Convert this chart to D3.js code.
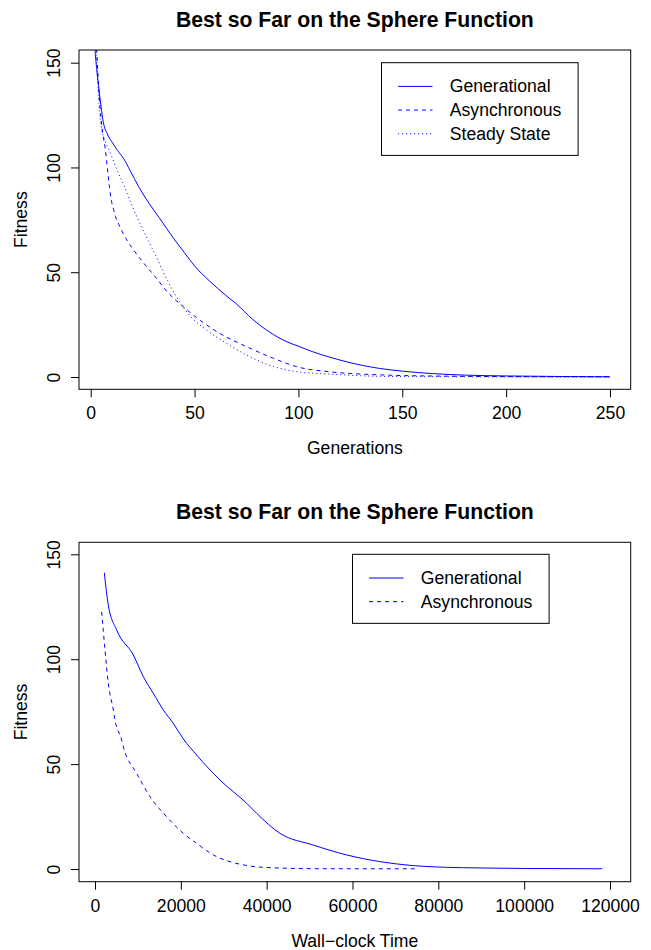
<!DOCTYPE html>
<html>
<head>
<meta charset="utf-8">
<script src="https://cdn.jsdelivr.net/npm/d3@7/dist/d3.min.js"></script>
<style>
  html, body { margin: 0; padding: 0; background: #fff; }
  svg { display: block; }
  text { font-family: "Liberation Sans", Arial, Helvetica, sans-serif; fill: #000; }
</style>
</head>
<body>
<svg id="chart" width="651" height="950"></svg>
<script>
// ---- Panel 1: best-so-far fitness per generation ----
const genGenerational = [1, 2, 3, 4, 5, 6, 8, 10, 13, 16, 19, 23, 28, 33, 40, 45, 50, 57, 65, 70, 78, 86, 94, 100, 107, 115, 123, 131, 139, 150, 165, 180, 200, 225, 250];
const fitGenerational = [185, 158, 146, 137, 129, 122, 116, 112.5, 108, 104, 98.5, 91, 83, 76, 66, 59.5, 53, 46, 39, 35, 27.5, 21.5, 17, 14.7, 12, 9.5, 7.3, 5.5, 4.1, 2.8, 1.6, 0.9, 0.5, 0.25, 0.1];

const genAsync = [1, 2, 3, 4, 5, 6, 7, 8, 9, 10, 11, 12, 14, 17, 20, 25, 31, 37, 45, 53, 62, 75, 88, 100, 115, 140, 170, 200, 250];
const fitAsync = [210, 175, 154, 136, 123, 115, 109, 100, 91, 84, 80, 76.5, 71.8, 66, 61.5, 55, 47.9, 40.5, 33.2, 26.8, 20.9, 14.5, 8.9, 4.7, 2.5, 1.0, 0.4, 0.2, 0.1];

const genSteady = [1, 2, 3, 4, 5, 7, 9, 11, 13, 16, 19, 22, 25, 28, 32, 36, 40, 44, 48, 55, 65, 75, 88, 100, 115, 130, 150, 200, 250];
const fitSteady = [215, 172, 148, 130, 120, 112.5, 108, 103, 98, 91.5, 84, 77, 70.5, 64.5, 56.5, 48, 40.5, 34, 29, 23, 16.3, 10.5, 5, 2.4, 1.4, 0.6, 0.2, 0.05, 0.02];

const genTicks = [0, 50, 100, 150, 200, 250];
const fitTicks = [0, 50, 100, 150];

// ---- Panel 2: best-so-far fitness against wall-clock time ----
const timeGenerational = [2170, 3100, 5050, 8930, 11260, 13590, 15920, 18250, 20580, 23690, 29130, 35350, 37680, 43110, 50880, 58650, 66410, 74180, 81950, 89710, 100000, 118200];
const wfitGenerational = [141.2, 125.8, 113.9, 102, 91.7, 83.7, 75.8, 69.4, 62, 54.3, 42.4, 31.3, 26.5, 17, 11.4, 6.7, 3.5, 1.6, 0.8, 0.5, 0.25, 0.1];

const timeAsync = [1550, 2330, 3100, 4270, 4660, 6210, 6600, 9710, 12820, 16700, 20580, 23690, 27570, 31450, 35000, 39220, 50880, 74950];
const wfitAsync = [122.6, 104.4, 88.5, 75.8, 71, 61.5, 58.3, 45.6, 34.5, 24.9, 17, 12.2, 6.7, 3.5, 1.8, 0.8, 0.15, 0.1];

const timeTicks = [0, 20000, 40000, 60000, 80000, 100000, 120000];

const seriesNames = ["Generational", "Asynchronous", "Steady State"];
const dashes = { "Generational": null, "Asynchronous": "4,4", "Steady State": "1,3" };
const lineColor = "#0000ff";

const FONT = 17.6;
const TITLE_FONT = 21.2;
const svg = d3.select("#chart");

function zip(xs, ys) { return xs.map((x, i) => ({ x, y: ys[i] })); }

function drawPanel(opt) {
  const { id, box, x, y, xTicks, yTicks, series, title, xLabel, legendAt } = opt;
  const g = svg.append("g");

  g.append("clipPath").attr("id", id)
    .append("rect")
    .attr("x", box.left).attr("y", box.top)
    .attr("width", box.right - box.left).attr("height", box.bottom - box.top);

  const line = d3.line().curve(d3.curveMonotoneX).x(d => x(d.x)).y(d => y(d.y));
  const plot = g.append("g").attr("clip-path", `url(#${id})`);
  series.forEach(s => {
    plot.append("path")
      .datum(zip(s.xs, s.ys))
      .attr("d", line)
      .attr("fill", "none")
      .attr("stroke", lineColor)
      .attr("stroke-width", 1)
      .attr("stroke-dasharray", dashes[s.name]);
  });

  // frame
  g.append("rect")
    .attr("x", box.left).attr("y", box.top)
    .attr("width", box.right - box.left).attr("height", box.bottom - box.top)
    .attr("fill", "none").attr("stroke", "#000").attr("stroke-width", 1);

  // bottom axis
  const xa = g.append("g")
    .attr("transform", `translate(0,${box.bottom})`)
    .call(d3.axisBottom(x).tickValues(xTicks).tickSize(8).tickFormat(d3.format("d")));
  xa.select(".domain").remove();
  xa.selectAll("line").attr("stroke", "#000");
  xa.selectAll("text")
    .attr("y", 30).attr("dy", null)
    .style("font-size", FONT + "px")
    .style("font-family", "'Liberation Sans', Arial, sans-serif")
    .attr("fill", "#000");

  // left axis with labels running parallel to it
  const ya = g.append("g")
    .attr("transform", `translate(${box.left},0)`)
    .call(d3.axisLeft(y).tickValues(yTicks).tickSize(8));
  ya.select(".domain").remove();
  ya.selectAll("line").attr("stroke", "#000");
  ya.selectAll("text")
    .attr("x", null).attr("dy", null)
    .attr("transform", "translate(-19,0) rotate(-90)")
    .attr("text-anchor", "middle")
    .style("font-size", FONT + "px")
    .style("font-family", "'Liberation Sans', Arial, sans-serif")
    .attr("fill", "#000");

  const cx = (box.left + box.right) / 2;
  const cy = (box.top + box.bottom) / 2;

  g.append("text")
    .attr("x", cx).attr("y", box.top - 23.5)
    .attr("text-anchor", "middle")
    .style("font-size", TITLE_FONT + "px").style("font-weight", "bold")
    .text(title);

  g.append("text")
    .attr("x", cx).attr("y", box.bottom + 65)
    .attr("text-anchor", "middle")
    .style("font-size", FONT + "px")
    .text(xLabel);

  g.append("text")
    .attr("transform", `translate(${box.left - 52.3},${cy}) rotate(-90)`)
    .attr("text-anchor", "middle")
    .style("font-size", FONT + "px")
    .text("Fitness");

  // legend anchored at a data coordinate (top-left corner)
  const lx = x(legendAt[0]);
  const ly = y(legendAt[1]);
  const rowH = 23.65;
  const legW = 196.6;
  const legH = 45.4 + rowH * (series.length - 1);
  const leg = g.append("g");
  leg.append("rect")
    .attr("x", lx).attr("y", ly).attr("width", legW).attr("height", legH)
    .attr("fill", "#fff").attr("stroke", "#000").attr("stroke-width", 1);
  series.forEach((s, i) => {
    const ry = ly + 23.7 + i * rowH;
    leg.append("line")
      .attr("x1", lx + 16.6).attr("x2", lx + 51)
      .attr("y1", ry).attr("y2", ry)
      .attr("stroke", lineColor).attr("stroke-width", 1)
      .attr("stroke-dasharray", dashes[s.name]);
    leg.append("text")
      .attr("x", lx + 68.3).attr("y", ry + 6)
      .style("font-size", FONT + "px")
      .text(s.name);
  });
}

drawPanel({
  id: "clipTop",
  box: { left: 79, right: 630.7, top: 50, bottom: 389.3 },
  x: d3.scaleLinear().domain([0, 250]).range([90.7, 610]),
  y: d3.scaleLinear().domain([0, 150]).range([377, 62.7]),
  xTicks: genTicks,
  yTicks: fitTicks,
  series: [
    { name: seriesNames[0], xs: genGenerational, ys: fitGenerational },
    { name: seriesNames[1], xs: genAsync, ys: fitAsync },
    { name: seriesNames[2], xs: genSteady, ys: fitSteady }
  ],
  title: "Best so Far on the Sphere Function",
  xLabel: "Generations",
  legendAt: [140, 150]
});

drawPanel({
  id: "clipBottom",
  box: { left: 79, right: 630.7, top: 542.3, bottom: 881.7 },
  x: d3.scaleLinear().domain([0, 120000]).range([95, 610]),
  y: d3.scaleLinear().domain([0, 150]).range([869, 554.3]),
  xTicks: timeTicks,
  yTicks: fitTicks,
  series: [
    { name: seriesNames[0], xs: timeGenerational, ys: wfitGenerational },
    { name: seriesNames[1], xs: timeAsync, ys: wfitAsync }
  ],
  title: "Best so Far on the Sphere Function",
  xLabel: "Wall\u2212clock Time",
  legendAt: [60000, 150]
});
</script>
</body>
</html>
